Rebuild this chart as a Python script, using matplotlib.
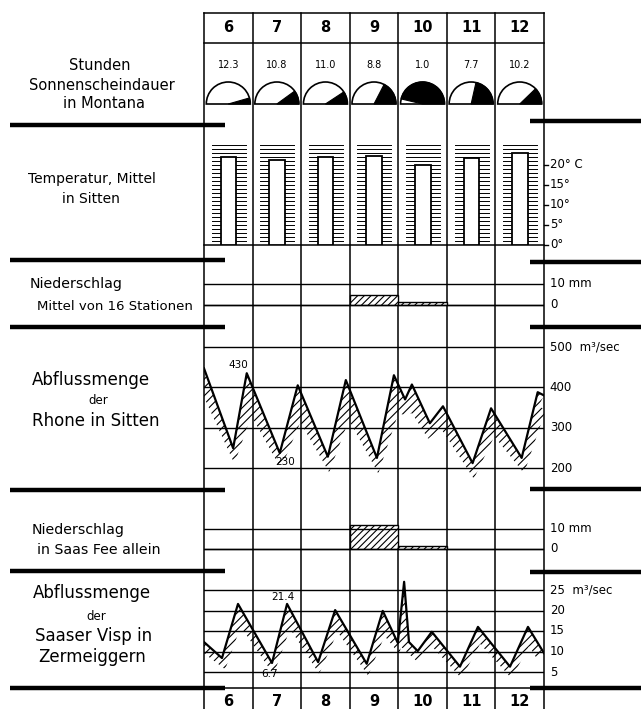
import numpy as np
import matplotlib
matplotlib.use("Agg")
import matplotlib.pyplot as plt
from matplotlib.patches import Wedge, Rectangle

# --- data ---
days = [6, 7, 8, 9, 10, 11, 12]
sunshine_hours = [12.3, 10.8, 11.0, 8.8, 1.0, 7.7, 10.2]
temp_sitten = [22.0, 21.3, 22.0, 22.3, 20.0, 21.7, 23.0]
precip_mean = [0, 0, 0, 4.8, 1.4, 0, 0]
precip_saas = [0, 0, 0, 12.0, 1.5, 0, 0]

rhone_t = [6.00, 6.60, 6.88, 7.56, 7.93, 8.55, 8.92, 9.56, 9.91, 10.14, 10.28,
           10.65, 10.92, 11.53, 11.91, 12.54, 12.87, 13.00]
rhone_q = [447, 249, 435, 237, 405, 228, 418, 225, 430, 370, 407,
           311, 353, 212, 348, 225, 388, 380]

visp_t = [6.00, 6.37, 6.70, 7.40, 7.71, 8.35, 8.70, 9.35, 9.68, 9.99, 10.12,
          10.22, 10.40, 10.69, 11.27, 11.64, 12.30, 12.67, 13.00]
visp_q = [12.3, 8.4, 21.6, 7.2, 21.6, 7.4, 20.1, 7.0, 19.9, 12.1, 27.0,
          12.3, 10.1, 14.8, 6.3, 16.0, 6.3, 16.0, 9.6]

temp_ticks = [0, 5, 10, 15, 20]
temp_labels = ["0°", "5°", "10°", "15°", "20° C"]
rhone_ticks = [200, 300, 400, 500]
rhone_labels = ["200", "300", "400", "500  m³/sec"]
visp_ticks = [5, 10, 15, 20, 25]
visp_labels = ["5", "10", "15", "20", "25  m³/sec"]
precip_ticks = [0, 10]
precip_labels = ["0", "10 mm"]

MAX_SUN = 13.5  # possible hours of sunshine (full half-disc)

W, H = 643, 709
GX0, GX1 = 204, 544
UNIT = (GX1 - GX0) / 7.0

plt.rcParams["font.family"] = "DejaVu Sans"
plt.rcParams["hatch.linewidth"] = 0.8

fig = plt.figure(figsize=(W / 100, H / 100), dpi=100)
fig.patch.set_facecolor("white")


def px_axes(x0, y0, x1, y1):
    ax = fig.add_axes([x0 / W, 1 - y1 / H, (x1 - x0) / W, (y1 - y0) / H])
    ax.set_axis_off()
    return ax


def shade(ax, t, q, w_px, inner_k=4.0, outer_k=1.3):
    # hatched band under the curve, of roughly constant pixel width
    pts = ax.transData.transform(np.column_stack([t, q]))
    d = np.diff(pts, axis=0)
    d /= np.hypot(d[:, 0], d[:, 1])[:, None]
    nrm = np.column_stack([d[:, 1], -d[:, 0]])
    off = np.zeros_like(pts)
    off[0], off[-1] = nrm[0], nrm[-1]
    for i in range(1, len(pts) - 1):
        m = nrm[i - 1] + nrm[i]
        m /= np.hypot(*m)
        turn = d[i - 1, 0] * d[i, 1] - d[i - 1, 1] * d[i, 0]
        k = outer_k if turn > 0 else inner_k
        c = max(np.dot(m, nrm[i]), 1 / k)
        off[i] = m / c
    low = ax.transData.inverted().transform(pts + off * w_px)
    xs = np.concatenate([t, low[::-1, 0]])
    ys = np.concatenate([q, low[::-1, 1]])
    ax.fill(xs, ys, facecolor="none", edgecolor="black", hatch="////", linewidth=0)


def right_labels(ax, ticks, labels, tick=False):
    for v, s in zip(ticks, labels):
        ax.text(13.12, v, s, fontsize=8.5, va="center", ha="left", clip_on=False)
        if tick:
            ax.plot([13, 13.08], [v, v], color="black", lw=1.0, clip_on=False)


def hgrid(ax, ticks):
    for v in ticks:
        ax.axhline(v, color="black", lw=1.0)


# background axes in pixel coordinates for labels and separators
bg = px_axes(0, 0, W, H)
bg.set_xlim(0, W)
bg.set_ylim(H, 0)

# column grid
grid = px_axes(GX0, 13, GX1, H)
grid.set_xlim(6, 13)
grid.set_ylim(0, 1)
for d in days + [13]:
    grid.axvline(d, color="black", lw=1.1, clip_on=False)

# header rows
for y0, y1 in [(13, 43), (688, 716)]:
    hx = px_axes(GX0, y0, GX1, y1)
    hx.set_xlim(6, 13)
    hx.set_ylim(0, 1)
    hx.axhline(1, color="black", lw=1.1, clip_on=False)
    if y0 == 13:
        hx.axhline(0, color="black", lw=1.1, clip_on=False)
    for d in days:
        hx.text(d + 0.5, 0.5, str(d), ha="center", va="center",
                fontsize=10.5, fontweight="semibold")

# sunshine half-discs
sun = px_axes(GX0, 43, GX1, 125)
sun.set_xlim(6, 13)
sun.set_ylim(0, 82 / UNIT)
base = (125 - 104) / UNIT
rad = 22 / UNIT
for d, s in zip(days, sunshine_hours):
    sun.add_patch(Wedge((d + 0.5, base), rad, 0, 180, facecolor="white",
                        edgecolor="black", lw=1.2))
    sun.add_patch(Wedge((d + 0.5, base), rad, 0, 180 * (1 - s / MAX_SUN),
                        facecolor="black", edgecolor="black", lw=0.8))
    sun.text(d + 0.5, (125 - 65) / UNIT, f"{s:.1f}", ha="center", va="center",
             fontsize=7)

# temperature thermometers
tmp = px_axes(GX0, 130, GX1, 245)
tmp.set_xlim(6, 13)
tmp.set_ylim(0, 115 / 4.0)
for d, v in zip(days, temp_sitten):
    for k in range(0, 26):
        tmp.plot([d + 0.16, d + 0.86], [k, k], color="black", lw=0.7)
    tmp.add_patch(Rectangle((d + 0.345, 0), 0.32, v, facecolor="white",
                            edgecolor="black", lw=1.3, zorder=3))
tmp.axhline(0, color="black", lw=1.1, clip_on=False)
right_labels(tmp, temp_ticks, temp_labels, tick=True)

# precipitation, mean of 16 stations
pm = px_axes(GX0, 262, GX1, 327)
pm.set_xlim(6, 13)
pm.set_ylim(-(327 - 305) / 2.1, (305 - 262) / 2.1)
hgrid(pm, precip_ticks)
pm.bar([d + 0.5 for d in days], precip_mean, width=1.0, facecolor="white",
       edgecolor="black", hatch="/////", lw=1.0)
right_labels(pm, precip_ticks, precip_labels)

# Rhone discharge
rh = px_axes(GX0, 327, GX1, 490)
rh.set_xlim(6, 13)
sc = (468 - 347) / 300.0
rh.set_ylim(200 - (490 - 468) / sc, 500 + (347 - 327) / sc)
hgrid(rh, rhone_ticks)
shade(rh, np.array(rhone_t), np.array(rhone_q), 12)
rh.plot(rhone_t, rhone_q, color="black", lw=1.6)
right_labels(rh, rhone_ticks, rhone_labels)
rh.text(6.70, 455, "430", fontsize=7.5, ha="center", va="center")
rh.text(7.67, 214, "230", fontsize=7.5, ha="center", va="center")

# precipitation, Saas Fee
ps = px_axes(GX0, 490, GX1, 570)
ps.set_xlim(6, 13)
ps.set_ylim(-(570 - 549) / 2.0, (549 - 490) / 2.0)
hgrid(ps, precip_ticks)
ps.bar([d + 0.5 for d in days], precip_saas, width=1.0, facecolor="white",
       edgecolor="black", hatch="/////", lw=1.0)
right_labels(ps, precip_ticks, precip_labels)

# Saaser Visp discharge
vs = px_axes(GX0, 570, GX1, 688)
vs.set_xlim(6, 13)
sv = (672 - 590) / 20.0
vs.set_ylim(5 - (688 - 672) / sv, 25 + (590 - 570) / sv)
hgrid(vs, visp_ticks)
shade(vs, np.array(visp_t), np.array(visp_q), 9)
vs.plot(visp_t, visp_q, color="black", lw=1.6)
right_labels(vs, visp_ticks, visp_labels)
vs.text(7.63, 23.3, "21.4", fontsize=7.5, ha="center", va="center")
vs.text(7.36, 4.4, "6.7", fontsize=7.5, ha="center", va="center")

# heavy section separators
for yl, yr in [(125, 121), (260, 262), (327, 327), (490, 489), (571, 572), (688, 688)]:
    bg.plot([10, 225], [yl, yl], color="black", lw=3.2, solid_capstyle="butt")
    bg.plot([530, 641], [yr, yr], color="black", lw=3.2, solid_capstyle="butt")

# left labels
bg.text(100, 65, "Stunden", ha="center", va="center", fontsize=10.5)
bg.text(102, 85, "Sonnenscheindauer", ha="center", va="center", fontsize=10.5)
bg.text(104, 103, "in Montana", ha="center", va="center", fontsize=10.5)
bg.text(28, 179, "Temperatur, Mittel", ha="left", va="center", fontsize=10)
bg.text(62, 199, "in Sitten", ha="left", va="center", fontsize=10)
bg.text(30, 284, "Niederschlag", ha="left", va="center", fontsize=10.2)
bg.text(37, 306, "Mittel von 16 Stationen", ha="left", va="center", fontsize=9.5)
bg.text(32, 380, "Abflussmenge", ha="left", va="center", fontsize=12)
bg.text(98, 401, "der", ha="center", va="center", fontsize=8.5)
bg.text(32, 421, "Rhone in Sitten", ha="left", va="center", fontsize=12)
bg.text(32, 530, "Niederschlag", ha="left", va="center", fontsize=10.2)
bg.text(37, 550, "in Saas Fee allein", ha="left", va="center", fontsize=10.2)
bg.text(33, 593, "Abflussmenge", ha="left", va="center", fontsize=12)
bg.text(96, 617, "der", ha="center", va="center", fontsize=8.5)
bg.text(35, 636, "Saaser Visp in", ha="left", va="center", fontsize=12)
bg.text(38, 657, "Zermeiggern", ha="left", va="center", fontsize=12)

fig.savefig("out.png", dpi=100)
